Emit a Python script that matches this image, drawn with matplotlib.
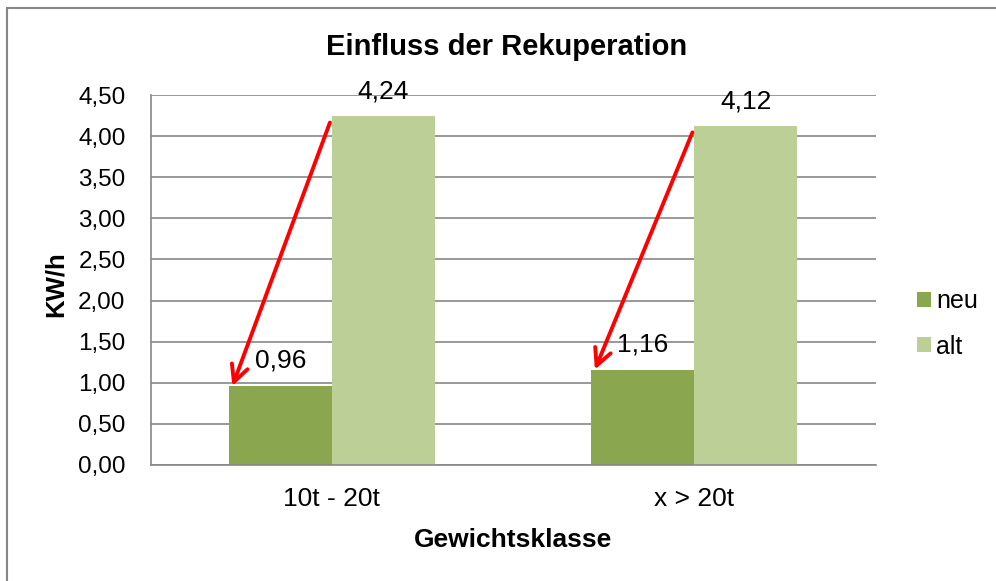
import matplotlib
matplotlib.use("Agg")
from matplotlib import pyplot as plt
from matplotlib.patches import Rectangle
import numpy as np

# data
kategorien = ["10t - 20t", "x > 20t"]
neu = [0.96, 1.16]
alt = [4.24, 4.12]
labels_neu = ["0,96", "1,16"]
labels_alt = ["4,24", "4,12"]

plt.rcParams['font.family'] = ['Liberation Sans', 'DejaVu Sans']

W, H = 996, 581
fig = plt.figure(figsize=(9.96, 5.81), dpi=100)
ax = fig.add_axes([150.5/W, 1-465/H, 725/W, 370/H])

x = np.arange(len(kategorien))
w = 0.284
c_neu = '#8aa64f'
c_alt = '#bbcf97'
ax.bar(x - w/2, neu, w, color=c_neu, label='neu', zorder=2)
ax.bar(x + w/2, alt, w, color=c_alt, label='alt', zorder=2)

for i in range(len(x)):
    ax.text(x[i] - w/2, neu[i] + 0.22, labels_neu[i], ha='center', va='baseline', fontsize=19)
    ax.text(x[i] + w/2, alt[i] + 0.22, labels_alt[i], ha='center', va='baseline', fontsize=19)
    # roter Pfeil von alt nach neu
    ax.annotate('', xy=(x[i] - w + 0.01, neu[i]), xytext=(x[i] - 0.005, alt[i] - 0.075),
                arrowprops=dict(arrowstyle='->', color='#ff0000', lw=2.8,
                                mutation_scale=30, shrinkA=0, shrinkB=0), zorder=5)

ax.set_xlim(-0.5, 1.5)
ax.set_ylim(0, 4.5)
yt = np.arange(0, 4.51, 0.5)
ax.set_yticks(yt)
ax.set_yticklabels([('%.2f' % v).replace('.', ',') for v in yt], fontsize=17.5)
ax.set_xticks(x)
ax.set_xticklabels(kategorien, fontsize=19)
ax.tick_params(axis='y', length=0, pad=18)
ax.tick_params(axis='x', length=0, pad=16)
ax.yaxis.grid(True, color='#878787', linewidth=1.2, zorder=0)
ax.set_axisbelow(True)
for s in ['top', 'right']:
    ax.spines[s].set_visible(False)
for s in ['left', 'bottom']:
    ax.spines[s].set_color('#878787')
    ax.spines[s].set_linewidth(1.2)

fig.text(507/W, 1-55/H, 'Einfluss der Rekuperation', fontsize=21, fontweight='bold',
         ha='center', va='baseline')
fig.text(513/W, 1-547/H, 'Gewichtsklasse', fontsize=19, fontweight='bold',
         ha='center', va='baseline')
fig.text(56/W, 1-284/H, 'KW/h', fontsize=18.5, fontweight='bold', rotation=90,
         ha='center', va='center')

ax.legend(loc='center left', bbox_to_anchor=(917/W, 1-324/H), bbox_transform=fig.transFigure,
          frameon=False, fontsize=18, borderpad=0, borderaxespad=0,
          handlelength=0.56, handleheight=0.56, handletextpad=0.2, labelspacing=0.84)

# Rahmen ums Diagramm
fig.patches.append(Rectangle((7/W, -0.1), 1.2, 1-8/H+0.1, transform=fig.transFigure,
                             fill=False, edgecolor='#878787', linewidth=1.5))

fig.savefig('out.png', dpi=100)
